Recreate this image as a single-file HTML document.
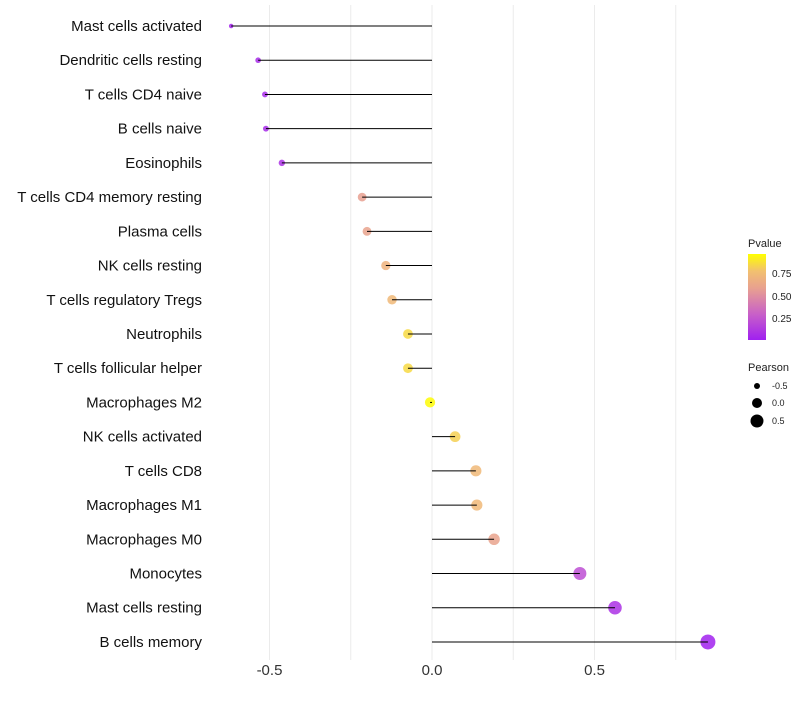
<!DOCTYPE html>
<html><head><meta charset="utf-8"><style>
body{margin:0;background:#fff;font-family:"Liberation Sans",sans-serif}
</style></head><body>
<svg id="c" width="800" height="700" xmlns="http://www.w3.org/2000/svg">
<defs><linearGradient id="pg" x1="0" y1="1" x2="0" y2="0">
<stop offset="0" stop-color="#A020F0"/><stop offset="0.3" stop-color="#C860C8"/><stop offset="0.6" stop-color="#E8A090"/><stop offset="0.8" stop-color="#F2C070"/><stop offset="1" stop-color="#FFFF00"/></linearGradient></defs>
<g id="grid"></g><g id="marks"></g><g id="labels"></g>
<g font-size="10" fill="#222">
<text x="748" y="247" font-size="11">Pvalue</text>
<rect x="748" y="254" width="18" height="86" fill="url(#pg)"/>
<text x="772" y="277">0.75</text><text x="772" y="300">0.50</text><text x="772" y="322">0.25</text>
</g>
<g font-size="9" fill="#222">
<text x="748" y="371" font-size="11">Pearson</text>
<circle cx="757" cy="386" r="3" fill="#000"/><text x="772" y="389">-0.5</text>
<circle cx="757" cy="403" r="5" fill="#000"/><text x="772" y="406">0.0</text>
<circle cx="757" cy="421" r="6.5" fill="#000"/><text x="772" y="424">0.5</text>
</g>
</svg>
<script>
const categories=["Mast cells activated","Dendritic cells resting","T cells CD4 naive","B cells naive","Eosinophils","T cells CD4 memory resting","Plasma cells","NK cells resting","T cells regulatory  Tregs ","Neutrophils","T cells follicular helper","Macrophages M2","NK cells activated","T cells CD8","Macrophages M1","Macrophages M0","Monocytes","Mast cells resting","B cells memory"];
const pearson=[-0.618,-0.535,-0.514,-0.511,-0.462,-0.215,-0.2,-0.142,-0.123,-0.074,-0.074,-0.006,0.071,0.135,0.138,0.191,0.455,0.563,0.849];
const pvalues=[0.02,0.05,0.05,0.05,0.08,0.6,0.62,0.72,0.75,0.88,0.88,0.99,0.85,0.75,0.75,0.62,0.22,0.08,0.01];
const xTicks=[-0.5,0,0.5];
const xTickLabels=["-0.5","0.0","0.5"];
const NS="http://www.w3.org/2000/svg";
const x=v=>432+v*325;
const y=i=>26+i*34.22;
function col(p){const st=[[0,[160,32,240]],[0.3,[200,96,200]],[0.6,[232,160,144]],[0.8,[242,192,112]],[1,[255,255,0]]];
for(let k=1;k<st.length;k++){if(p<=st[k][0]){const t=(p-st[k-1][0])/(st[k][0]-st[k-1][0]);const a=st[k-1][1],b=st[k][1];return `rgb(${a.map((c,j)=>Math.round(c+(b[j]-c)*t)).join(",")})`;}}return "rgb(255,255,0)";}
const rad=v=>Math.sqrt(Math.max(1.5,26.4+34.8*v));
function mk(tag,at,par){const e=document.createElementNS(NS,tag);for(const k in at)e.setAttribute(k,at[k]);document.getElementById(par).appendChild(e);return e;}
[-0.5,-0.25,0,0.25,0.5,0.75].forEach(v=>{const g=mk("line",{x1:x(v),x2:x(v),y1:5,y2:660,stroke:"#ebebeb","stroke-width":1},"grid");

});
xTicks.forEach((v,i)=>{const t=mk("text",{x:x(v),y:675,"text-anchor":"middle","font-size":"15",fill:"#333"},"labels");t.textContent=xTickLabels[i];

});
categories.forEach((c,i)=>{
const t=mk("text",{x:202,y:y(i)+5,"text-anchor":"end","font-size":"15","xml:space":"preserve",fill:"#111"},"labels");t.textContent=c;


const cir=mk("circle",{cx:x(pearson[i]),cy:y(i),r:rad(pearson[i]),fill:col(pvalues[i]),"fill-opacity":0.85},"marks");


const l=mk("line",{x1:x(0),x2:x(pearson[i]),y1:y(i),y2:y(i),stroke:"#000","stroke-width":1},"marks");


});
</script>
</body></html>
